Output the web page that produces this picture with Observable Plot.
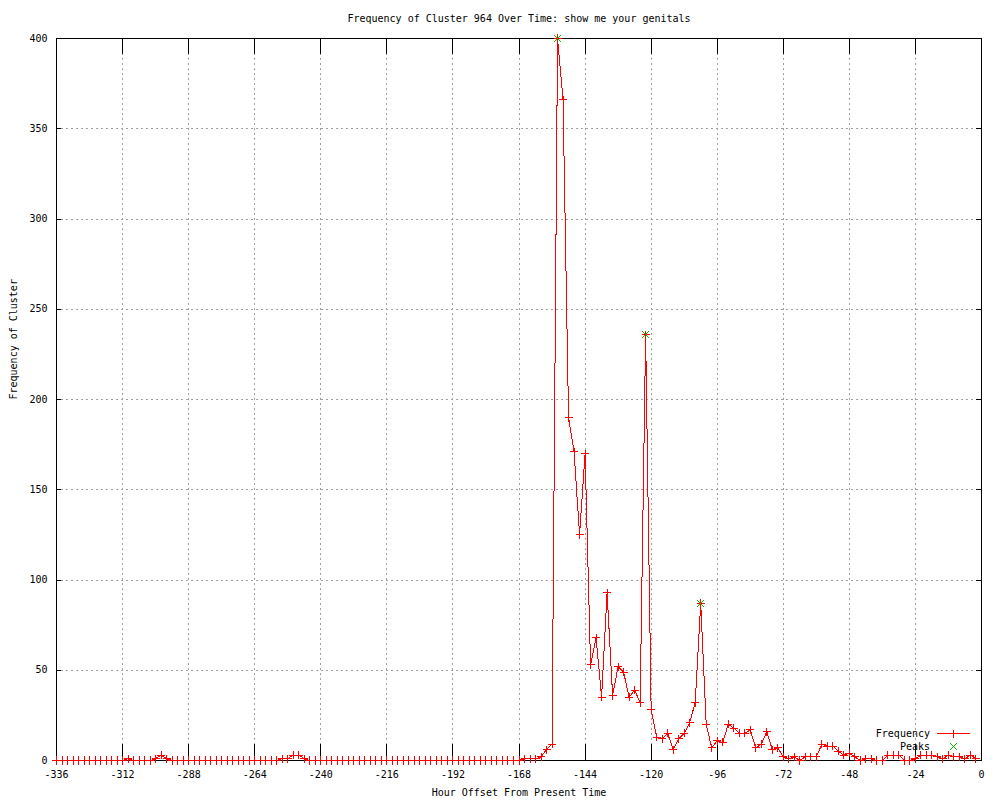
<!DOCTYPE html>
<html><head><meta charset="utf-8">
<script src="https://cdn.jsdelivr.net/npm/d3@7"></script>
<script src="https://cdn.jsdelivr.net/npm/@observablehq/plot@0.6"></script>
<style>
html,body{margin:0;padding:0;background:#fff;}
svg{display:block}
svg line, svg path, svg rect { shape-rendering: crispEdges; }
</style>
</head><body><div id="chart"></div>
<script>
const title = "Frequency of Cluster 964 Over Time: show me your genitals";
const xLabel = "Hour Offset From Present Time";
const yLabel = "Frequency of Cluster";
const legendLabels = ["Frequency", "Peaks"];

const hours = [
-336,-334,-332,-330,-328,-326,-324,-322,-320,-318,-316,-314,
-312,-310,-308,-306,-304,-302,-300,-298,-296,-294,-292,-290,
-288,-286,-284,-282,-280,-278,-276,-274,-272,-270,-268,-266,
-264,-262,-260,-258,-256,-254,-252,-250,-248,-246,-244,-242,
-240,-238,-236,-234,-232,-230,-228,-226,-224,-222,-220,-218,
-216,-214,-212,-210,-208,-206,-204,-202,-200,-198,-196,-194,
-192,-190,-188,-186,-184,-182,-180,-178,-176,-174,-172,-170,
-168,-166,-164,-162,-160,-158,-156,-154,-152,-150,-148,-146,
-144,-142,-140,-138,-136,-134,-132,-130,-128,-126,-124,-122,
-120,-118,-116,-114,-112,-110,-108,-106,-104,-102,-100,-98,
-96,-94,-92,-90,-88,-86,-84,-82,-80,-78,-76,-74,
-72,-70,-68,-66,-64,-62,-60,-58,-56,-54,-52,-50,
-48,-46,-44,-42,-40,-38,-36,-34,-32,-30,-28,-26,
-24,-22,-20,-18,-16,-14,-12,-10,-8,-6,-4,-2
];
const frequency = [
0,0,0,0,0,0,0,0,0,0,0,0,
0,1,0,0,0,0,1,3,1,0,0,0,
0,0,0,0,0,0,0,0,0,0,0,0,
0,0,0,0,0,1,1,3,3,1,0,0,
0,0,0,0,0,0,0,0,0,0,0,0,
0,0,0,0,0,0,0,0,0,0,0,0,
0,0,0,0,0,0,0,0,0,0,0,0,
0,1,1,1,2,6,9,400,366,190,171,125,
170,53,68,35,93,36,52,49,35,39,32,236,
28,13,12,15,6,12,15,21,32,87,20,7,
11,10,20,18,15,15,17,7,9,16,6,7,
2,1,2,0,2,2,2,9,8,8,5,3,
4,2,0,1,1,0,0,3,3,3,0,0,
1,3,3,3,2,1,3,2,2,1,3,1
];
const peakHours = [-154, -122, -102];
const peakValues = [400, 236, 87];
const xTicks = [-336,-312,-288,-264,-240,-216,-192,-168,-144,-120,-96,-72,-48,-24,0];
const yTicks = [0,50,100,150,200,250,300,350,400];

const W = 1000, H = 800, mL = 56, mR = 19, mT = 38, mB = 40;
const plotW = W - mL - mR, plotH = H - mT - mB;
const series = hours.map((h, i) => ({hour: h, value: frequency[i]}));
const peaks = peakHours.map((h, i) => ({hour: h, value: peakValues[i]}));
const font = "DejaVu Sans Mono";
const red = "#ff0000", green = "#00c000", gridGray = "#a0a0a0";

// Legend (key) drawn in pixel space, anchored to the frame's bottom-right corner
const legend = (index, scales, values, dims) => {
  const d = (dims && dims.width) ? dims : {width: W, height: H, marginRight: mR, marginBottom: mB};
  const right = d.width - d.marginRight, bottom = d.height - d.marginBottom;
  const g = d3.create("svg:g");
  const rows = [
    {label: legendLabels[0], color: red, line: true, sym: "plus"},
    {label: legendLabels[1], color: green, line: false, sym: "times"}
  ];
  rows.forEach((r, i) => {
    const y = Math.round(bottom - 27 + 13 * i) + 0.5;
    g.append("text").attr("x", right - 51).attr("y", y).attr("dy", "0.32em")
      .attr("text-anchor", "end").attr("fill", "#000").text(r.label);
    const cx = right - 28 + 0.5;
    if (r.line) {
      g.append("line").attr("x1", right - 44).attr("x2", right - 11).attr("y1", y).attr("y2", y)
        .attr("stroke", r.color).attr("stroke-width", 1);
    }
    const s = r.sym === "plus" ? 4 : 3.5;
    const p = r.sym === "plus"
      ? `M${cx - s},${y}H${cx + s}M${cx},${y - s}V${y + s}`
      : `M${cx - s},${y - s}L${cx + s},${y + s}M${cx - s},${y + s}L${cx + s},${y - s}`;
    g.append("path").attr("d", p).attr("fill", "none").attr("stroke", r.color).attr("stroke-width", 1);
  });
  return g.node();
};

const chart = Plot.plot({
  width: W, height: H,
  marginLeft: mL, marginRight: mR, marginTop: mT, marginBottom: mB,
  style: {fontFamily: font, fontSize: "10px", background: "#fff", color: "#000"},
  x: {domain: [-336, 0]},
  y: {domain: [0, 400]},
  marks: [
    Plot.gridX({ticks: xTicks.slice(1, -1), stroke: gridGray, strokeOpacity: 1, strokeDasharray: "2,3"}),
    Plot.gridY({ticks: yTicks.slice(1, -1), stroke: gridGray, strokeOpacity: 1, strokeDasharray: "2,3"}),
    Plot.ruleX(xTicks, {stroke: "#000", insetTop: plotH - 16}),
    Plot.ruleX(xTicks, {stroke: "#000", insetBottom: plotH - 16}),
    Plot.ruleY(yTicks, {stroke: "#000", insetRight: plotW - 5}),
    Plot.ruleY(yTicks, {stroke: "#000", insetLeft: plotW - 5}),
    Plot.axisX({ticks: xTicks, tickSize: 0, tickPadding: 10, tickFormat: d => String(d), label: null}),
    Plot.axisY({ticks: yTicks, tickSize: 0, tickPadding: 9, tickFormat: d => String(d), label: null}),
    Plot.frame({stroke: "#000"}),
    Plot.line(series, {x: "hour", y: "value", stroke: red, strokeWidth: 1}),
    Plot.dot(series, {x: "hour", y: "value", symbol: "plus", r: 2.7, stroke: red, strokeWidth: 1}),
    Plot.dot(peaks, {x: "hour", y: "value", symbol: "times", r: 3.5, stroke: green, strokeWidth: 1}),
    Plot.text([title], {text: d => d, frameAnchor: "top", lineAnchor: "middle", dy: -20}),
    Plot.text([xLabel], {text: d => d, frameAnchor: "bottom", lineAnchor: "middle", dy: 32}),
    Plot.text([yLabel], {text: d => d, frameAnchor: "left", lineAnchor: "middle", dx: -43, rotate: -90}),
    legend
  ]
});
document.getElementById("chart").append(chart);
</script>
</body></html>
